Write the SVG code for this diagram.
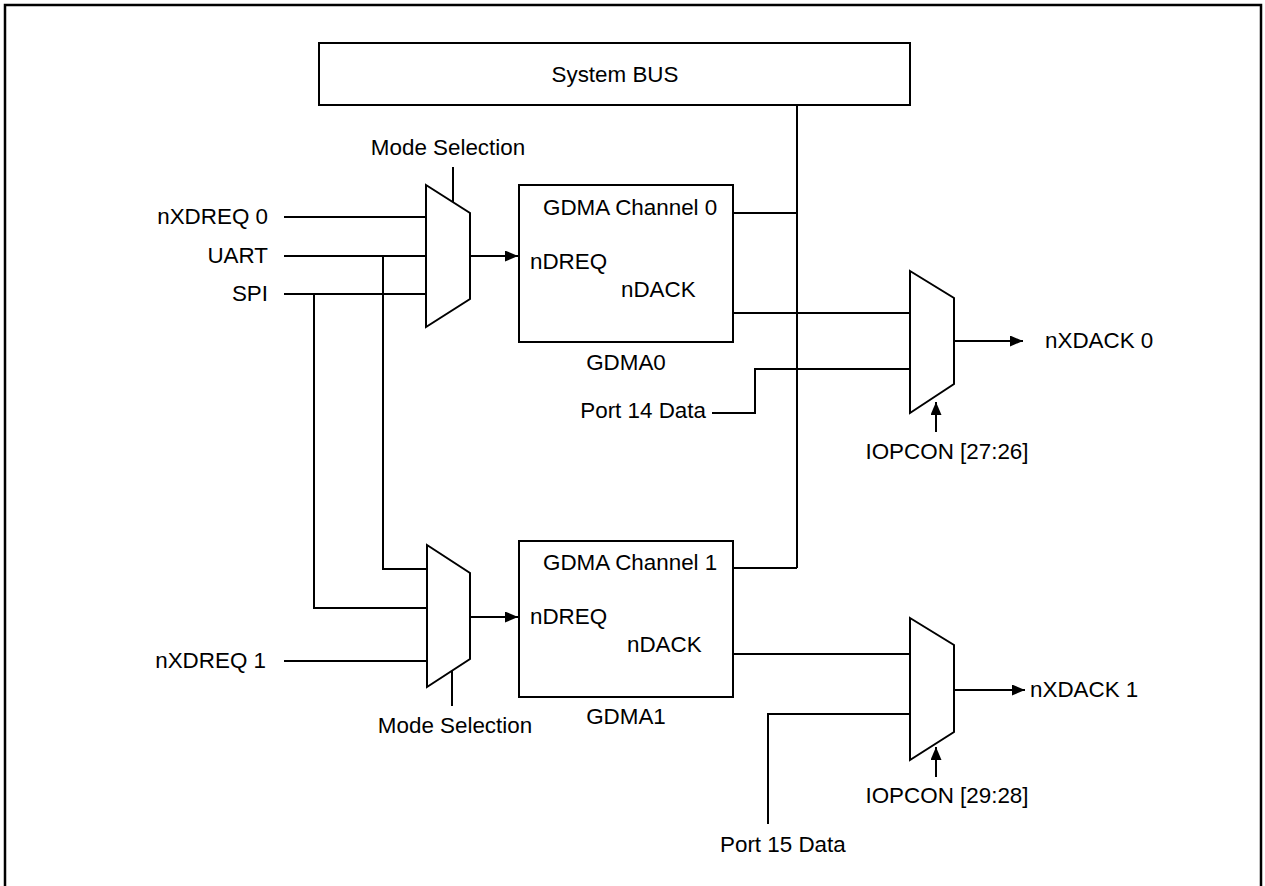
<svg xmlns="http://www.w3.org/2000/svg" width="1265" height="886" viewBox="0 0 1265 886">
<style>
.t{font-family:"Liberation Sans",Arial,sans-serif;font-size:22.4px;fill:#000}
.s{fill:#fff;stroke:#000;stroke-width:2}
.w{fill:none;stroke:#000;stroke-width:2}
</style>
<defs>
<marker id="ah" markerUnits="userSpaceOnUse" markerWidth="13" markerHeight="11" refX="13" refY="5.5" orient="auto">
<path d="M0,0 L13,5.5 L0,11 Z" fill="#000"/>
</marker>
</defs>
<rect x="5" y="5" width="1256" height="900" fill="#fff" stroke="#000" stroke-width="2.5"/>

<g id="connectors" class="w">
<path d="M284,217 H426"/>
<path d="M284,256 H426"/>
<path d="M284,294 H426"/>
<path d="M383,256 V569 H427"/>
<path d="M314,294 V608 H427"/>
<path d="M284,661 H427"/>
<path d="M470,256 H518" marker-end="url(#ah)"/>
<path d="M470,617 H518" marker-end="url(#ah)"/>
<path d="M453,167 V202"/>
<path d="M452,671 V706"/>
<path d="M797,105 V568"/>
<path d="M733,213 H797"/>
<path d="M733,568 H797"/>
<path d="M733,313 H910"/>
<path d="M712,413 H755 V369 H910"/>
<path d="M954,341 H1023" marker-end="url(#ah)"/>
<path d="M936,432 V402" marker-end="url(#ah)"/>
<path d="M733,654 H910"/>
<path d="M768,824 V714 H910"/>
<path d="M954,690 H1025" marker-end="url(#ah)"/>
<path d="M936,777 V747" marker-end="url(#ah)"/>
</g>

<g id="sysbus">
<rect class="s" x="319" y="43" width="591" height="62"/>
<text class="t" x="615" y="82" text-anchor="middle">System BUS</text>
</g>

<g id="mux0">
<polygon class="s" points="426,185 470,213 470,299 426,327"/>
<text class="t" x="448" y="155" text-anchor="middle">Mode Selection</text>
</g>

<g id="mux1">
<polygon class="s" points="427,545 470,573 470,659 427,687"/>
<text class="t" x="455" y="733" text-anchor="middle">Mode Selection</text>
</g>

<g id="inputs">
<text class="t" x="268" y="224" text-anchor="end">nXDREQ 0</text>
<text class="t" x="268" y="263" text-anchor="end">UART</text>
<text class="t" x="268" y="301" text-anchor="end">SPI</text>
<text class="t" x="266" y="668" text-anchor="end">nXDREQ 1</text>
</g>

<g id="gdma0">
<rect class="s" x="519" y="185" width="214" height="157"/>
<text class="t" x="543" y="215">GDMA Channel 0</text>
<text class="t" x="530" y="269">nDREQ</text>
<text class="t" x="621" y="297">nDACK</text>
<text class="t" x="626" y="370" text-anchor="middle">GDMA0</text>
</g>

<g id="gdma1">
<rect class="s" x="519" y="541" width="214" height="156"/>
<text class="t" x="543" y="570">GDMA Channel 1</text>
<text class="t" x="530" y="624">nDREQ</text>
<text class="t" x="627" y="652">nDACK</text>
<text class="t" x="626" y="724" text-anchor="middle">GDMA1</text>
</g>

<g id="mux2">
<polygon class="s" points="910,271 954,298 954,384 910,413"/>
<text class="t" x="1045" y="348">nXDACK 0</text>
<text class="t" x="947" y="459" text-anchor="middle">IOPCON [27:26]</text>
<text class="t" x="706" y="418" text-anchor="end">Port 14 Data</text>
</g>

<g id="mux3">
<polygon class="s" points="910,618 954,645 954,732 910,760"/>
<text class="t" x="1030" y="697">nXDACK 1</text>
<text class="t" x="947" y="803" text-anchor="middle">IOPCON [29:28]</text>
<text class="t" x="720" y="852">Port 15 Data</text>
</g>
</svg>
